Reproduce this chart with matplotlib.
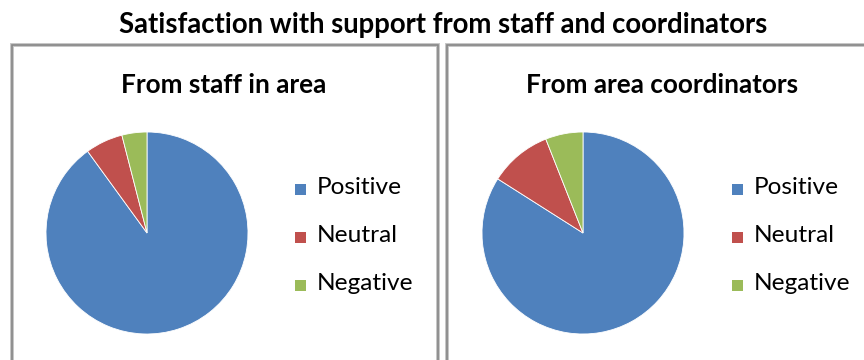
import matplotlib
matplotlib.use("Agg")
import matplotlib.pyplot as plt
from matplotlib.patches import Rectangle

categories = ["Positive", "Neutral", "Negative"]
staff_values = [90, 6, 4]
coordinator_values = [84, 10, 6]
panel_titles = ["From staff in area", "From area coordinators"]
main_title = "Satisfaction with support from staff and coordinators"
colors = ["#4F81BD", "#C0504D", "#9BBB59"]

plt.rcParams["font.family"] = ["Lato", "DejaVu Sans"]

W, H = 864, 360
fig = plt.figure(figsize=(W / 100, H / 100), dpi=100)
fig.patch.set_facecolor("white")


def px(x, y):
    # pixel coordinates measured from the top-left corner -> figure fraction
    return x / W, 1 - y / H


fig.text(*px(443, 25), main_title, ha="center", va="center",
         fontsize=19.8, fontweight="bold", color="black")

panels = [
    dict(box=(11.5, 44.5, 426, 340), title_x=224, center=(147, 233),
         legend_x=295, values=staff_values, title=panel_titles[0]),
    dict(box=(447.5, 44.5, 430, 340), title_x=662, center=(583, 233),
         legend_x=732, values=coordinator_values, title=panel_titles[1]),
]

radius = 101
for p in panels:
    bx, by, bw, bh = p["box"]
    # soft outer shadow plus the frame itself
    fig.patches.append(Rectangle((bx / W, 1 - (by + bh) / H), bw / W, bh / H,
                                 transform=fig.transFigure, fill=False,
                                 edgecolor="#c4c4c4", linewidth=2.8))
    fig.patches.append(Rectangle((bx / W, 1 - (by + bh) / H), bw / W, bh / H,
                                 transform=fig.transFigure, fill=False,
                                 edgecolor="#878787", linewidth=1.2))

    fig.text(*px(p["title_x"], 85), p["title"], ha="center", va="center",
             fontsize=18.8, fontweight="bold", color="black")

    cx, cy = p["center"]
    ax = fig.add_axes([(cx - radius) / W, 1 - (cy + radius) / H,
                       2 * radius / W, 2 * radius / H])
    ax.pie(p["values"], colors=colors, startangle=90, counterclock=False,
           radius=1.0, wedgeprops=dict(linewidth=0.6, edgecolor="white"))
    ax.set_xlim(-1, 1)
    ax.set_ylim(-1, 1)
    ax.set_aspect("equal")
    ax.axis("off")

    lx = p["legend_x"]
    for i, (cat, col) in enumerate(zip(categories, colors)):
        ly = 189 + 48 * i
        fig.patches.append(Rectangle((lx / W, 1 - (ly + 5.5) / H), 11 / W, 11 / H,
                                     transform=fig.transFigure,
                                     facecolor=col, edgecolor="none"))
        fig.text(*px(lx + 22, ly - 2), cat, ha="left", va="center",
                 fontsize=17.6, color="black")

fig.savefig("out.png", dpi=100)
